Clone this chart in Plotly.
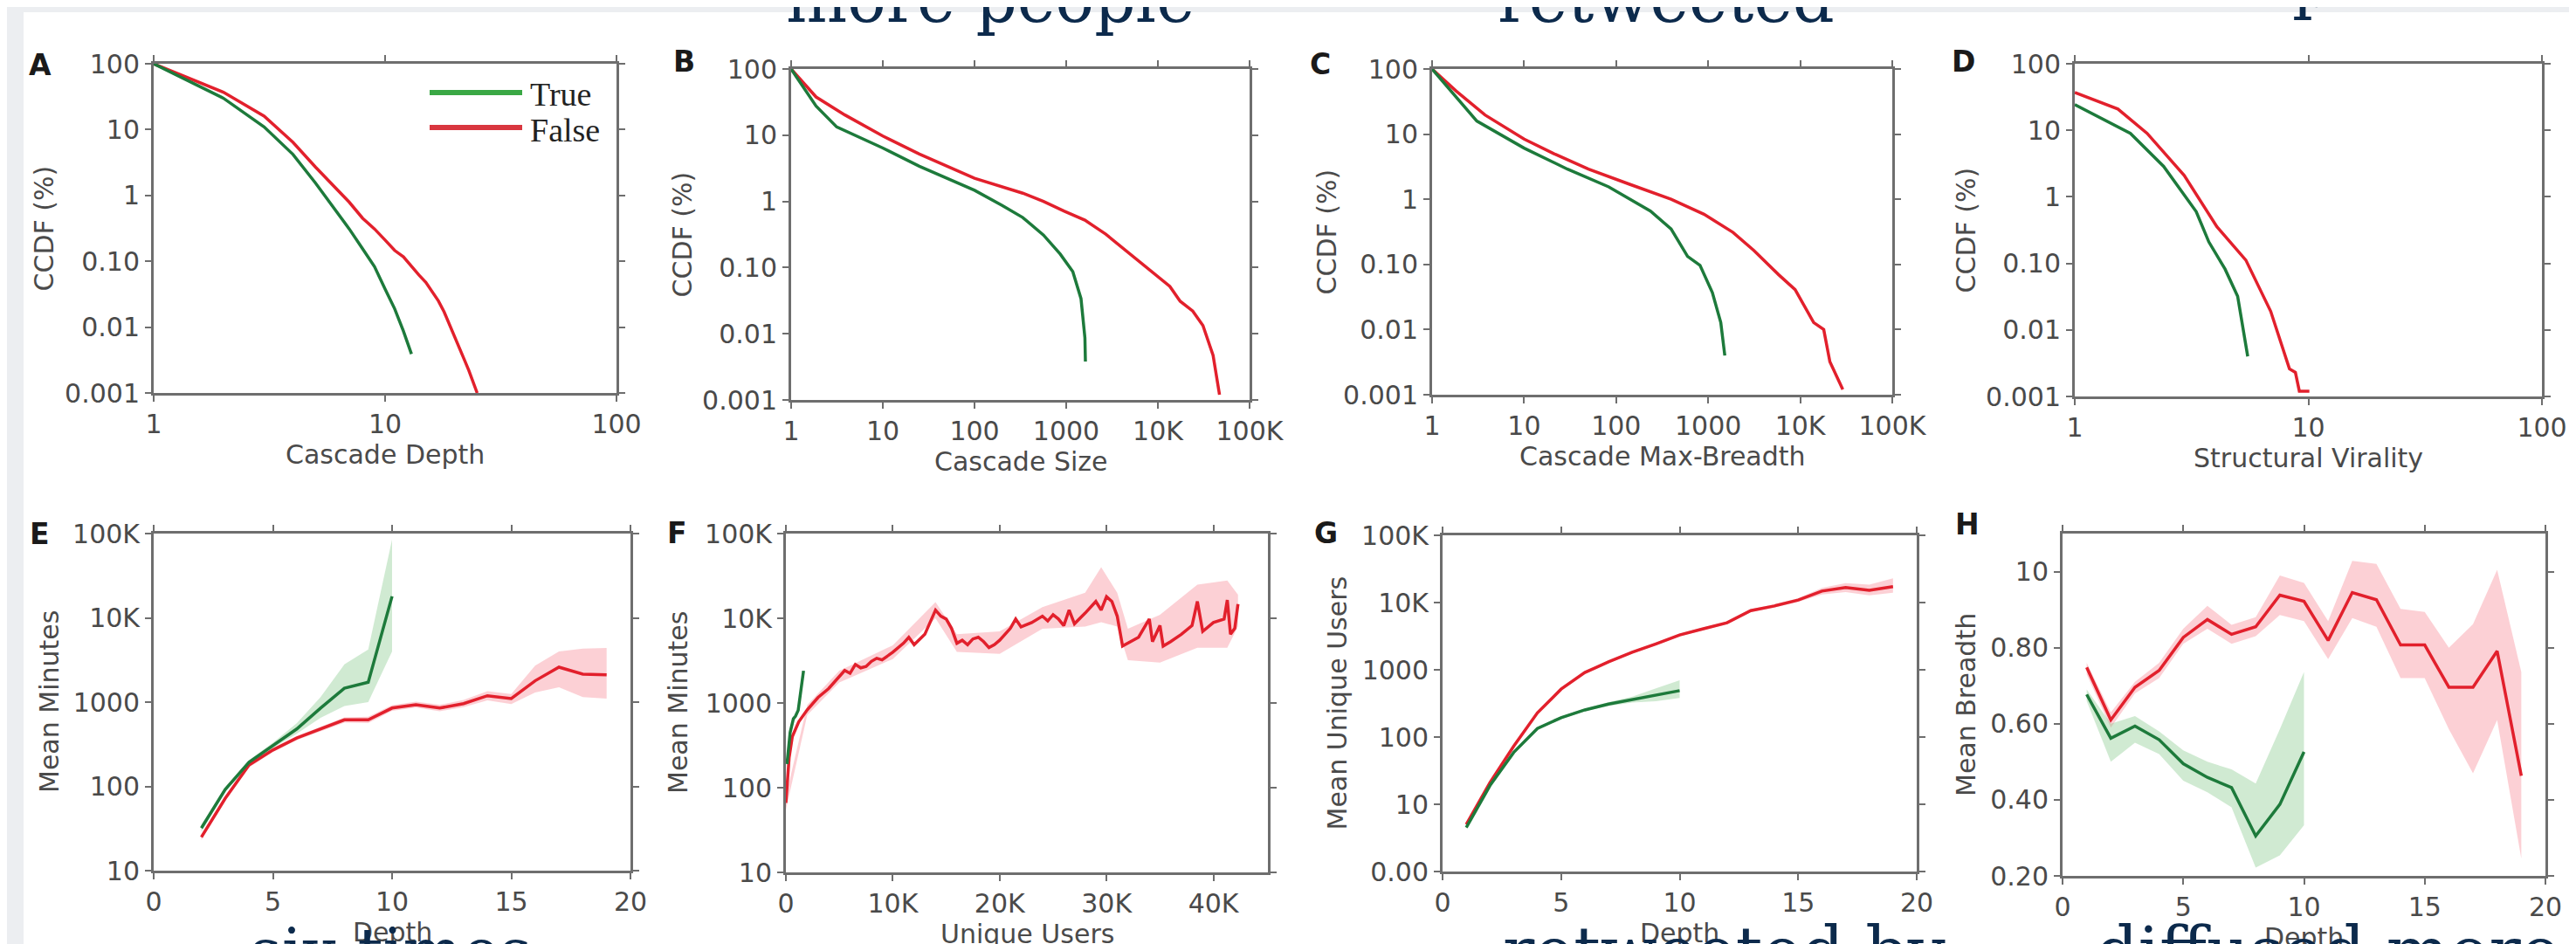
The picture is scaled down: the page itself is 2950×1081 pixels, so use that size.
import plotly.graph_objects as go

W, H = 2950, 1081
GREEN = "#1d7a3b"
RED = "#e2202c"
GREEN_BAND = "rgba(120, 195, 125, 0.35)"
RED_BAND = "rgba(245, 120, 135, 0.35)"
AXIS = "#6e6e6e"
TEXT = "#4a4a4a"
NAVY = "#0c2a4c"

# ---- A: CCDF of cascade depth
depth_true_x = list(range(1, 14))
depth_true_y = [100, 30, 11, 4.2, 1.55, 0.66, 0.31, 0.154, 0.083, 0.038, 0.019, 0.0087, 0.0039]
depth_false_x = list(range(1, 26))
depth_false_y = [100, 37, 16, 6.4, 2.7, 1.38, 0.79, 0.45, 0.31, 0.21, 0.146, 0.117, 0.083,
                 0.062, 0.048, 0.034, 0.025, 0.017, 0.011, 0.0073, 0.0048, 0.0032, 0.0022, 0.0015, 0.001]

# ---- B: CCDF of cascade size
size_true_x = [1, 1.87, 3.14, 10, 25, 100, 200, 336, 565, 860, 1180, 1450, 1600, 1620]
size_true_y = [100, 27.6, 13.3, 6.4, 3.4, 1.47, 0.87, 0.57, 0.31, 0.16, 0.087, 0.034, 0.0087, 0.0038]
size_false_x = [1, 1.87, 3.86, 10, 25, 100, 336, 565, 955, 1600, 2700, 4500, 7600, 13500,
                17500, 24000, 31000, 40000, 47000]
size_false_y = [100, 37.8, 20.2, 9.7, 5.2, 2.24, 1.33, 1.0, 0.71, 0.52, 0.32, 0.18, 0.098, 0.052,
                0.031, 0.022, 0.0133, 0.0047, 0.0012]

# ---- C: CCDF of cascade max-breadth
breadth_true_x = [1, 1.82, 3.06, 10, 29.6, 83, 236, 395, 597, 815, 1110, 1370, 1515]
breadth_true_y = [100, 37, 15.9, 6.1, 2.9, 1.55, 0.66, 0.35, 0.133, 0.097, 0.037, 0.0128, 0.004]
breadth_false_x = [1, 1.82, 3.76, 10, 21.8, 50, 140, 395, 900, 1860, 3130, 5800, 8800, 14000,
                   18000, 21000, 29000]
breadth_false_y = [100, 46, 19.7, 8.4, 4.9, 2.9, 1.7, 1.0, 0.59, 0.31, 0.164, 0.07, 0.041, 0.0128,
                   0.01, 0.0032, 0.0012]

# ---- D: CCDF of structural virality
viral_true_x = [1, 1.3, 1.73, 2.4, 3.31, 3.75, 4.4, 4.98, 5.5]
viral_true_y = [24.4, 15.2, 9.0, 2.87, 0.6, 0.21, 0.082, 0.032, 0.004]
viral_false_x = [1, 1.53, 2.04, 2.94, 4.06, 5.4, 6.9, 8.3, 8.8, 9.15, 10.1]
viral_false_y = [37, 20.9, 9.0, 2.1, 0.355, 0.112, 0.019, 0.0026, 0.0023, 0.0012, 0.0012]

# ---- E: mean minutes by depth
e_true_x = list(range(2, 11))
e_true_y = [32, 92, 194, 305, 480, 850, 1460, 1720, 18000]
e_true_hi = [35, 98, 205, 330, 560, 1150, 2800, 4200, 85000]
e_true_lo = [29, 86, 183, 285, 420, 650, 900, 1000, 4000]
e_false_x = list(range(2, 20))
e_false_y = [25, 72, 179, 270, 375, 480, 615, 615, 850, 930, 850, 960, 1190, 1100, 1790, 2600, 2150, 2110]
e_false_hi = [27, 77, 190, 285, 395, 510, 660, 670, 920, 1010, 930, 1060, 1350, 1250, 2700, 4000, 4300, 4400]
e_false_lo = [23, 67, 168, 255, 355, 450, 570, 565, 790, 860, 780, 870, 1050, 950, 1300, 1500, 1150, 1100]

# ---- F: mean minutes by unique users
f_true_x = [100, 400, 700, 900, 1150, 1300, 1450, 1550, 1650]
f_true_y = [190, 450, 650, 700, 820, 1100, 1500, 2000, 2400]
f_false_x = [0, 300, 600, 1200, 2000, 3000, 4000, 5000, 5500, 6000, 6500, 7000, 7500, 8000,
             8500, 9000, 10000, 11000, 11500, 12000, 13000, 14000, 14500, 15000, 15500, 16000,
             16500, 17000, 17500, 18000, 18500, 19000, 19500, 20000, 21000, 21500, 22000, 23000,
             24000, 24500, 25000, 25500, 26000, 26500, 27000, 28000, 29000, 29500, 30000, 30500,
             31000, 31500, 32000, 33000, 34000, 34300, 35000, 35300, 36000, 37000, 38000, 38500,
             39000, 40000, 41000, 41300, 41600, 42000, 42300]
f_false_y = [66, 225, 400, 600, 830, 1160, 1480, 2050, 2420, 2240, 2850, 2600, 2700, 3100,
             3370, 3230, 3970, 5070, 5970, 4870, 6470, 12500, 10600, 9800, 7600, 5070,
             5500, 4870, 5700, 5970, 5300, 4500, 4870, 5500, 7600, 9800, 7900, 8900,
             10600, 9300, 11000, 9800, 8200, 12500, 8600, 11500, 15800, 12500, 18000, 15800,
             10600, 4700, 5070, 5970, 9800, 5300, 8200, 4700, 5300, 6470, 8200, 15800,
             7000, 8900, 9800, 16400, 6470, 7600, 14700]
f_band_x = [0, 2000, 5000, 10000, 14000, 16000, 20000, 24000, 28000, 29500, 31000, 32000,
            35000, 38500, 41300, 42300]
f_band_hi = [80, 950, 2400, 4800, 15500, 6500, 7000, 13500, 20000, 40000, 20000, 7500,
             11000, 25000, 28000, 19000]
f_band_lo = [55, 720, 1750, 3300, 10000, 4000, 3800, 7500, 8000, 9000, 8000, 3200,
             3000, 4500, 4500, 8000]

# ---- G: mean unique users by depth
g_true_x = list(range(1, 11))
g_true_y = [4.5, 19, 59, 134, 194, 253, 309, 360, 420, 490]
g_true_hi = [4.7, 20, 62, 140, 203, 265, 330, 400, 530, 700]
g_true_lo = [4.3, 18, 56, 128, 185, 241, 290, 325, 340, 380]
g_false_x = list(range(1, 20))
g_false_y = [5.0, 21, 73, 229, 515, 910, 1310, 1820, 2430, 3300, 4070, 5000, 7600, 8900,
             10900, 14800, 16700, 15200, 17300]
g_false_hi = [5.3, 22, 77, 240, 540, 950, 1370, 1900, 2550, 3450, 4250, 5250, 8000, 9400,
              11600, 16500, 19500, 18500, 23000]
g_false_lo = [4.7, 20, 69, 218, 490, 870, 1250, 1740, 2310, 3150, 3890, 4760, 7200, 8400,
              10200, 13200, 14300, 12800, 14000]

# ---- H: mean breadth by depth
h_true_x = list(range(1, 11))
h_true_y = [0.677, 0.562, 0.594, 0.558, 0.495, 0.459, 0.432, 0.305, 0.388, 0.526]
h_true_hi = [0.69, 0.60, 0.62, 0.58, 0.53, 0.50, 0.48, 0.443, 0.586, 0.736]
h_true_lo = [0.66, 0.50, 0.55, 0.52, 0.45, 0.42, 0.38, 0.222, 0.254, 0.333]
h_false_x = list(range(1, 20))
h_false_y = [0.748, 0.61, 0.696, 0.74, 0.827, 0.874, 0.835, 0.855, 0.938, 0.922, 0.819,
             0.945, 0.926, 0.807, 0.807, 0.696, 0.696, 0.791, 0.463]
h_false_hi = [0.76, 0.63, 0.71, 0.76, 0.85, 0.91, 0.86, 0.88, 0.99, 0.97, 0.87,
              1.028, 1.02, 0.902, 0.894, 0.80, 0.862, 1.005, 0.736]
h_false_lo = [0.73, 0.59, 0.68, 0.72, 0.81, 0.85, 0.81, 0.83, 0.886, 0.87, 0.77,
              0.878, 0.855, 0.72, 0.72, 0.586, 0.47, 0.61, 0.246]

# tick labels
ccdf_ticks = [0.001, 0.01, 0.1, 1, 10, 100]
ccdf_text = ["0.001", "0.01", "0.10", "1", "10", "100"]
log2_ticks = [1, 10, 100]
log2_text = ["1", "10", "100"]
log5_ticks = [1, 10, 100, 1000, 10000, 100000]
log5_text = ["1", "10", "100", "1000", "10K", "100K"]
minutes_ticks = [10, 100, 1000, 10000, 100000]
minutes_text = ["10", "100", "1000", "10K", "100K"]
users_ticks = [1, 10, 100, 1000, 10000, 100000]
users_text = ["0.00", "10", "100", "1000", "10K", "100K"]
breadth_ticks = [0.2, 0.4, 0.6, 0.8, 1.0]
breadth_text = ["0.20", "0.40", "0.60", "0.80", "10"]
depth_ticks = [0, 5, 10, 15, 20]
uu_ticks = [0, 10000, 20000, 30000, 40000]
uu_text = ["0", "10K", "20K", "30K", "40K"]


def px(x):
    return x / W


def py(y):
    return 1 - y / H


# panel boxes (left, top, right, bottom) in pixels, plus axis setup
panels = [
    dict(letter="A", box=(168, 65, 698, 442), letter_at=(38, 66),
         x=dict(type="log", range=[0, 2], tickvals=log2_ticks, ticktext=log2_text),
         y=dict(type="log", range=[-3, 2], tickvals=ccdf_ticks, ticktext=ccdf_text),
         xtitle="Cascade Depth", ytitle="CCDF (%)", yoff=126),
    dict(letter="B", box=(898, 71, 1423, 450), letter_at=(775, 63),
         x=dict(type="log", range=[0, 5], tickvals=log5_ticks, ticktext=log5_text),
         y=dict(type="log", range=[-3, 2], tickvals=ccdf_ticks, ticktext=ccdf_text),
         xtitle="Cascade Size", ytitle="CCDF (%)", yoff=125),
    dict(letter="C", box=(1632, 71, 2159, 444), letter_at=(1504, 65),
         x=dict(type="log", range=[0, 5], tickvals=log5_ticks, ticktext=log5_text),
         y=dict(type="log", range=[-3, 2], tickvals=ccdf_ticks, ticktext=ccdf_text),
         xtitle="Cascade Max-Breadth", ytitle="CCDF (%)", yoff=121),
    dict(letter="D", box=(2368, 65, 2903, 446), letter_at=(2240, 63),
         x=dict(type="log", range=[0, 2], tickvals=log2_ticks, ticktext=log2_text),
         y=dict(type="log", range=[-3, 2], tickvals=ccdf_ticks, ticktext=ccdf_text),
         xtitle="Structural Virality", ytitle="CCDF (%)", yoff=125),
    dict(letter="E", box=(168, 603, 714, 989), letter_at=(37, 603),
         x=dict(type="linear", range=[0, 20], tickvals=depth_ticks),
         y=dict(type="log", range=[1, 5], tickvals=minutes_ticks, ticktext=minutes_text),
         xtitle="Depth", ytitle="Mean Minutes", yoff=120),
    dict(letter="F", box=(892, 603, 1444, 991), letter_at=(767, 602),
         x=dict(type="linear", range=[0, 45100], tickvals=uu_ticks, ticktext=uu_text),
         y=dict(type="log", range=[1, 5], tickvals=minutes_ticks, ticktext=minutes_text),
         xtitle="Unique Users", ytitle="Mean Minutes", yoff=124),
    dict(letter="G", box=(1644, 605, 2187, 990), letter_at=(1510, 602),
         x=dict(type="linear", range=[0, 20], tickvals=depth_ticks),
         y=dict(type="log", range=[0, 5], tickvals=users_ticks, ticktext=users_text),
         xtitle="Depth", ytitle="Mean Unique Users", yoff=121),
    dict(letter="H", box=(2354, 603, 2907, 995), letter_at=(2245, 592),
         x=dict(type="linear", range=[0, 20], tickvals=depth_ticks),
         y=dict(type="linear", range=[0.2, 1.1], tickvals=breadth_ticks, ticktext=breadth_text),
         xtitle="Depth", ytitle="Mean Breadth", yoff=111),
]

fig = go.Figure()


def refs(i):
    return ("x" if i == 1 else f"x{i}"), ("y" if i == 1 else f"y{i}")


def line(i, xs, ys, color):
    xr, yr = refs(i)
    fig.add_trace(go.Scatter(x=xs, y=ys, mode="lines", xaxis=xr, yaxis=yr,
                             line=dict(color=color, width=3.5), showlegend=False,
                             hoverinfo="skip"))


def band(i, xs, hi, lo, color):
    xr, yr = refs(i)
    fig.add_trace(go.Scatter(x=list(xs) + list(xs)[::-1], y=list(hi) + list(lo)[::-1],
                             mode="lines", fill="toself", fillcolor=color,
                             line=dict(width=0, color=color), xaxis=xr, yaxis=yr,
                             showlegend=False, hoverinfo="skip"))


line(1, depth_false_x, depth_false_y, RED)
line(1, depth_true_x, depth_true_y, GREEN)
line(2, size_false_x, size_false_y, RED)
line(2, size_true_x, size_true_y, GREEN)
line(3, breadth_false_x, breadth_false_y, RED)
line(3, breadth_true_x, breadth_true_y, GREEN)
line(4, viral_false_x, viral_false_y, RED)
line(4, viral_true_x, viral_true_y, GREEN)

band(5, e_false_x, e_false_hi, e_false_lo, RED_BAND)
band(5, e_true_x, e_true_hi, e_true_lo, GREEN_BAND)
line(5, e_false_x, e_false_y, RED)
line(5, e_true_x, e_true_y, GREEN)

band(6, f_band_x, f_band_hi, f_band_lo, RED_BAND)
line(6, f_false_x, f_false_y, RED)
line(6, f_true_x, f_true_y, GREEN)

band(7, g_false_x, g_false_hi, g_false_lo, RED_BAND)
band(7, g_true_x, g_true_hi, g_true_lo, GREEN_BAND)
line(7, g_false_x, g_false_y, RED)
line(7, g_true_x, g_true_y, GREEN)

band(8, h_false_x, h_false_hi, h_false_lo, RED_BAND)
band(8, h_true_x, h_true_hi, h_true_lo, GREEN_BAND)
line(8, h_false_x, h_false_y, RED)
line(8, h_true_x, h_true_y, GREEN)

tick_font = dict(family="DejaVu Sans, Arial, sans-serif", size=30, color=TEXT)
title_font = dict(family="DejaVu Sans, Arial, sans-serif", size=30, color=TEXT)
axis_style = dict(showline=True, linecolor=AXIS, linewidth=3, mirror="ticks",
                  ticks="outside", ticklen=7, tickwidth=2, tickcolor=AXIS,
                  showgrid=False, zeroline=False, automargin=False, tickfont=tick_font)

annotations = []
layout = {}
for i, p in enumerate(panels, start=1):
    l, t, r, b = p["box"]
    xr, yr = refs(i)
    xname = "xaxis" if i == 1 else f"xaxis{i}"
    yname = "yaxis" if i == 1 else f"yaxis{i}"
    layout[xname] = dict(domain=[px(l), px(r)], anchor=yr, **p["x"], **axis_style)
    layout[yname] = dict(domain=[py(b), py(t)], anchor=xr, **p["y"], **axis_style)
    annotations.append(dict(text=p["xtitle"], xref=f"{xr} domain", yref=f"{yr} domain",
                            x=0.5, y=0, yshift=-70, xanchor="center", yanchor="middle",
                            showarrow=False, font=title_font))
    annotations.append(dict(text=p["ytitle"], xref=f"{xr} domain", yref=f"{yr} domain",
                            x=0, y=0.5, xshift=-p["yoff"], xanchor="center", yanchor="middle",
                            textangle=-90, showarrow=False, font=title_font))
    lx, ly = p["letter_at"]
    annotations.append(dict(text=f"<b>{p['letter']}</b>", xref="paper", yref="paper",
                            x=px(lx), y=py(ly), xanchor="center", yanchor="middle",
                            showarrow=False,
                            font=dict(family="DejaVu Sans, Arial, sans-serif", size=33,
                                      color="#1a1a1a")))

# legend drawn inside panel A
legend_font = dict(family="Liberation Serif, Times New Roman, serif", size=38, color="#222222")
shapes = [
    dict(type="rect", xref="paper", yref="paper", x0=0, x1=1, y0=py(6), y1=1,
         fillcolor="#eceef1", line=dict(width=0), layer="below"),
    dict(type="rect", xref="paper", yref="paper", x0=0, x1=px(19), y0=0, y1=1,
         fillcolor="#eceef1", line=dict(width=0), layer="below"),
    dict(type="rect", xref="paper", yref="paper", x0=px(2939), x1=1, y0=0, y1=1,
         fillcolor="#eceef1", line=dict(width=0), layer="below"),
    dict(type="line", xref="paper", yref="paper", x0=px(484), x1=px(590), y0=py(98), y1=py(98),
         line=dict(color="#3aa845", width=6)),
    dict(type="line", xref="paper", yref="paper", x0=px(484), x1=px(590), y0=py(138), y1=py(138),
         line=dict(color="#d9363f", width=6)),
]
annotations.append(dict(text="True", xref="paper", yref="paper", x=px(597), y=py(100),
                        xanchor="left", yanchor="middle", showarrow=False, font=legend_font))
annotations.append(dict(text="False", xref="paper", yref="paper", x=px(597), y=py(141),
                        xanchor="left", yanchor="middle", showarrow=False, font=legend_font))

# fragments of the article text that overlap the figure
overlay = [
    ("more people", 890, 15, 74),
    ("retweeted", 1705, 15, 75),
    ("p", 2615, -3, 75),
    ("six times", 276, 1105, 72),
    ("retweeted by", 1711, 1106, 76),
    ("diffused more", 2390, 1106, 76),
]
for text, x0, base, size in overlay:
    annotations.append(dict(text=text, xref="paper", yref="paper", x=px(x0),
                            y=py(base - 0.32 * size), xanchor="left", yanchor="middle",
                            showarrow=False,
                            font=dict(family="DejaVu Serif, serif", size=size, color=NAVY)))

fig.update_layout(
    width=W, height=H,
    margin=dict(l=0, r=0, t=0, b=0),
    paper_bgcolor="white", plot_bgcolor="white",
    template="none",
    showlegend=False,
    annotations=annotations,
    shapes=shapes,
    **layout,
)

fig.write_html("out.html")
